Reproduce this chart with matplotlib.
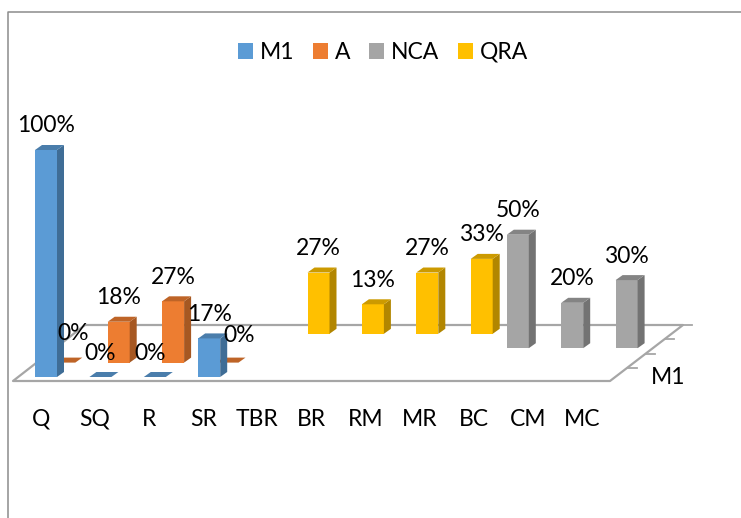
import numpy as np
import matplotlib
matplotlib.use('Agg')
import matplotlib.pyplot as plt
from matplotlib.patches import Patch, Polygon

plt.rcParams['font.family'] = ['Lato', 'DejaVu Sans']

categories = ['Q', 'SQ', 'R', 'SR', 'TBR', 'BR', 'RM', 'MR', 'BC', 'CM', 'MC']
series_names = ['M1', 'A', 'NCA', 'QRA']

# percent values, nan = no bar
m1 = [100, 0, 0, 17, np.nan, np.nan, np.nan, np.nan, np.nan, np.nan, np.nan]
a = [0, 18, 27, 0, np.nan, np.nan, np.nan, np.nan, np.nan, np.nan, np.nan]
nca = [np.nan, np.nan, np.nan, np.nan, np.nan, np.nan, np.nan, np.nan, 50, 20, 30]
qra = [np.nan, np.nan, np.nan, np.nan, 27, 13, 27, 33, np.nan, np.nan, np.nan]

# front, side, top
colours = {
    'M1': ('#5B9BD5', '#3F6D96', '#4A7DAB'),
    'A': ('#ED7D31', '#A65822', '#BE6427'),
    'NCA': ('#A5A5A5', '#737373', '#848484'),
    'QRA': ('#FFC000', '#B28600', '#CC9A00'),
}

# oblique projection of the chart, in pixels
cat_step = 54.4
x0 = 35
y0 = 377
row_dx = 18.3
row_dy = -14.4
bar_w = 22
side_dx = 7
side_dy = -5
y_scale = 2.27

grey = '#A6A6A6'

fig = plt.figure(figsize=(7.41, 5.18), dpi=100)
ax = fig.add_axes([0, 0, 1, 1])
ax.set_xlim(0, 741)
ax.set_ylim(518, 0)
ax.axis('off')

# chart border, runs off the right and bottom of the picture
ax.plot([8, 8, 741], [518, 11.5, 11.5], color='#8C8C8C', lw=1.1)

# floor
ax.plot([85, 13, 610, 683, 85], [325, 381, 381, 325, 325], color=grey, lw=1.6, zorder=1)
for k in range(4):
    ex = 683 - k * row_dx
    ey = 325 - k * row_dy
    ax.plot([ex, ex + 9], [ey, ey], color=grey, lw=1.3, zorder=1)


def draw_bar(i, row, val, name):
    front, side, top = colours[name]
    xl = x0 + i * cat_step + row * row_dx
    xr = xl + bar_w
    yb = y0 + row * row_dy
    yt = yb - val * y_scale
    if val > 0:
        ax.add_patch(Polygon([(xl, yb), (xr, yb), (xr, yt), (xl, yt)], fc=front, ec='none', zorder=3))
        ax.add_patch(Polygon([(xr, yb), (xr + side_dx, yb + side_dy), (xr + side_dx, yt + side_dy), (xr, yt)],
                             fc=side, ec='none', zorder=3))
    ax.add_patch(Polygon([(xl, yt), (xr, yt), (xr + side_dx, yt + side_dy), (xl + side_dx, yt + side_dy)],
                         fc=top, ec='none', zorder=3))
    return xl + bar_w / 2, yt


labels = []
rows = [('QRA', qra, 3), ('NCA', nca, 2), ('A', a, 1), ('M1', m1, 0)]
for name, vals, row in rows:
    for i, v in enumerate(vals):
        if np.isnan(v):
            continue
        cx, yt = draw_bar(i, row, v, name)
        labels.append((cx, yt, v, name, i))

# hand moved labels in the original
nudge = {('A', 0): (9, -5), ('M1', 2): (-5, 0), ('A', 3): (12, -3)}
for cx, yt, v, name, i in labels:
    dx, dy = nudge.get((name, i), (0, 0))
    ax.text(cx + dx, yt - 24 + dy, '%d%%' % v, ha='center', va='center', fontsize=16.5, color='black', zorder=5)

for i, c in enumerate(categories):
    ax.text(41 + i * 54.1, 419, c, ha='center', va='center', fontsize=16.5, color='black')
ax.text(668, 378, 'M1', ha='center', va='center', fontsize=16.5, color='black')

handles = [Patch(fc=colours[n][0], ec='none', label=n) for n in series_names]
ax.legend(handles=handles, ncol=4, loc='center', bbox_to_anchor=(383 / 741, 1 - 52.5 / 518),
          frameon=False, fontsize=16.5, handlelength=0.66, handleheight=0.66,
          handletextpad=0.3, columnspacing=0.8)

fig.savefig('out.png', dpi=100)
